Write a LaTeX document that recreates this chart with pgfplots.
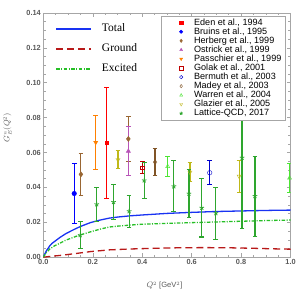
\documentclass[border=0pt]{standalone}
\usepackage{pgfplots}
\pgfplotsset{compat=1.18}
\usepackage{fontspec}
\setmainfont{Liberation Sans}
\newfontfamily\serifff{Liberation Serif}
\definecolor{totalblue}{rgb}{0.1,0.2,0.95}
\definecolor{groundred}{rgb}{0.72,0.1,0.1}
\definecolor{excgreen}{rgb}{0.15,0.75,0.15}
\definecolor{edenred}{rgb}{1,0,0}
\definecolor{bruinsblue}{rgb}{0,0,1}
\definecolor{herbbrown}{rgb}{0.6,0.4,0.2}
\definecolor{ostpurple}{rgb}{0.72,0.33,0.72}
\definecolor{passorange}{rgb}{1,0.5,0}
\definecolor{golakred}{rgb}{0.75,0,0}
\definecolor{bermblue}{rgb}{0,0,0.8}
\definecolor{madeybrown}{rgb}{0.5,0.33,0.15}
\definecolor{warrengreen}{rgb}{0.3,0.9,0.2}
\definecolor{glazyellow}{rgb}{0.75,0.72,0.1}
\definecolor{latgreen}{rgb}{0.18,0.65,0.18}
\definecolor{framegray}{rgb}{0.65,0.65,0.65}
\definecolor{labgray}{rgb}{0.35,0.35,0.35}
\begin{document}
\begin{tikzpicture}
\pgfplotsset{
  ebar/.style={only marks, color=#1, error bars/y dir=both, error bars/y explicit,
    error bars/error bar style={line width=1.2pt, color=#1},
    error bars/error mark options={rotate=90, line width=1.1pt, mark size=2.4pt, color=#1}},
}
\begin{axis}[
  scale only axis, width=248pt, height=245pt,
  xmin=0, xmax=1, ymin=0, ymax=0.14,
  xtick={0,0.2,0.4,0.6,0.8,1.0}, ytick={0,0.02,0.04,0.06,0.08,0.10,0.12,0.14},
  minor x tick num=3, minor y tick num=3,
  tick align=inside, major tick length=4pt, minor tick length=2.2pt,
  axis line style={framegray, line width=0.6pt},
  tick style={framegray, line width=0.5pt},
  /pgf/number format/assume math mode=true,
  xticklabel style={/pgf/number format/fixed, /pgf/number format/fixed zerofill, /pgf/number format/precision=1, yshift=1pt},
  yticklabel style={/pgf/number format/fixed, /pgf/number format/fixed zerofill, /pgf/number format/precision=2, xshift=1pt},
  ticklabel style={font=\fontsize{7.4}{8}\selectfont\bfseries, text=labgray},
  xlabel={$Q^2$ [GeV$^2$]},
  ylabel={$G_E^n(Q^2)$},
  label style={font=\fontsize{7.6}{8}\selectfont, text=labgray},
  xlabel style={at={(rel axis cs:0.49,0)}, anchor=center, yshift=-28.5pt},
  ylabel style={at={(rel axis cs:0,0.53)}, anchor=center, yshift=36pt},
  legend style={at={(rel axis cs:1,1)}, anchor=north east, xshift=-5pt, yshift=-3pt,
    draw=framegray, fill=white, font=\fontsize{9.1}{9}\selectfont,
    row sep=0pt, inner xsep=2pt, inner ysep=2pt,
    nodes={text height=6.6pt, text depth=1.9pt, inner ysep=0.3pt, inner xsep=2pt}},
  legend cell align=left,
  legend image code/.code={\path[draw=none, fill=none] (0pt,0pt) -- (29pt,0pt);
    \draw[mark size=1.7pt,#1] plot coordinates {(18pt,0pt)};},
]
% curves
\addplot[totalblue, line width=1.3pt, forget plot] coordinates {
(0,0) (0.004,0.0014) (0.008,0.0024) (0.013,0.0038) (0.02,0.0052) (0.026,0.0065) (0.035,0.0079)
(0.05,0.0095) (0.067,0.0113) (0.09,0.0134) (0.12,0.0156) (0.15,0.0176) (0.19,0.0198)
(0.23,0.0213) (0.267,0.0224) (0.3,0.0230) (0.35,0.0237) (0.4,0.0242) (0.5,0.0251)
(0.6,0.0257) (0.7,0.0262) (0.8,0.0265) (0.9,0.0268) (1.0,0.0270)};
\addplot[groundred, line width=1.3pt, dash pattern=on 7pt off 4pt, forget plot] coordinates {
(0,0) (0.03,0.0005) (0.067,0.0010) (0.12,0.0019) (0.19,0.0032) (0.267,0.0042) (0.35,0.0047)
(0.45,0.0051) (0.55,0.0054) (0.65,0.0055) (0.75,0.0054) (0.85,0.0051) (0.93,0.0048) (1.0,0.0046)};
\addplot[excgreen, line width=1.3pt, dash pattern=on 3.5pt off 1.5pt on 1pt off 1.5pt, forget plot] coordinates {
(0,0) (0.01,0.0022) (0.026,0.0047) (0.045,0.0065) (0.067,0.0080) (0.09,0.0097) (0.12,0.0113)
(0.15,0.0128) (0.19,0.0145) (0.23,0.0161) (0.267,0.0173) (0.3,0.0178) (0.35,0.0184) (0.4,0.0189)
(0.5,0.0194) (0.6,0.0198) (0.7,0.0202) (0.8,0.0206) (0.9,0.0210) (1.0,0.0213)};
% data
\addplot[ebar=edenred, mark=square*, mark size=1.8pt] table[y error=e] {
x y e
0.257 0.0656 0.0319
};
\addlegendentry{Eden et al., 1994}
\addplot[ebar=bruinsblue, mark=*, mark size=2.3pt] table[y error=e] {
x y e
0.125 0.0365 0.0170
};
\addlegendentry{Bruins et al., 1995}
\addplot[ebar=herbbrown, mark=diamond*, mark size=2.6pt] table[y error=e] {
x y e
0.152 0.0475 0.0119
0.344 0.0678 0.0129
};
\addlegendentry{Herberg et al., 1999}
\addplot[ebar=ostpurple, mark=triangle*, mark size=2.4pt] table[y error=e] {
x y e
0.344 0.0608 0.0139
};
\addlegendentry{Ostrick et al., 1999}
\addplot[ebar=passorange, mark=triangle*, mark options={rotate=180}, mark size=2.4pt] table[y error=e] {
x y e
0.212 0.0658 0.0155
};
\addlegendentry{Passchier et al., 1999}
\addplot[ebar=golakred, mark=square, mark size=1.8pt] table[y error=e] {
x y e
0.401 0.0514 0.0036
};
\addlegendentry{Golak et al., 2001}
\addplot[ebar=bermblue, mark=o, mark size=2.3pt] table[y error=e] {
x y e
0.673 0.0484 0.0069
};
\addlegendentry{Bermuth et al., 2003}
\addplot[ebar=madeybrown, mark=diamond, mark size=2.4pt] table[y error=e] {
x y e
0.452 0.0545 0.0076
};
\addlegendentry{Madey et al., 2003}
\addplot[ebar=warrengreen, mark=triangle, mark size=2.4pt] table[y error=e] {
x y e
0.503 0.0520 0.0059
0.996 0.0454 0.0085
};
\addlegendentry{Warren et al., 2004}
\addplot[ebar=glazyellow, mark=triangle, mark options={rotate=180}, mark size=2.4pt] table[y error=e] {
x y e
0.302 0.0559 0.0052
0.593 0.0487 0.0054
0.792 0.0464 0.0091
};
\addlegendentry{Glazier et al., 2005}
\addplot[ebar=latgreen, mark=star, mark size=2.4pt, mark options={line width=0.8pt}] table[y error=e] {
x y e
0.149 0.0126 0.0078
0.216 0.0303 0.0097
0.284 0.0316 0.0101
0.347 0.0263 0.0093
0.408 0.0440 0.0105
0.528 0.0406 0.0146
0.589 0.0364 0.0138
0.641 0.0283 0.0167
0.698 0.0252 0.0148
0.804 0.0570 0.0406
0.856 0.0350 0.0229
};
\addlegendentry{Lattice-QCD, 2017}
\end{axis}
\begin{axis}[
  scale only axis, width=248pt, height=245pt,
  xmin=0, xmax=1, ymin=0, ymax=0.14, hide axis,
  legend style={at={(rel axis cs:0,1)}, anchor=north west, xshift=12pt, yshift=-6pt,
    draw=none, fill=none, font=\serifff\fontsize{11.5}{12}\selectfont, row sep=0pt,
    inner sep=0pt,
    nodes={text height=8pt, text depth=2.5pt, inner ysep=4.75pt, inner xsep=3pt}},
  legend cell align=left,
  legend image code/.code={\draw[#1] (0pt,0pt) -- (35pt,0pt); \path[draw=none] (0pt,0pt) -- (43pt,0pt);},
]
\addlegendimage{totalblue, line width=1.3pt}
\addlegendentry{Total}
\addlegendimage{groundred, line width=1.3pt, dash pattern=on 7pt off 4pt}
\addlegendentry{Ground}
\addlegendimage{excgreen, line width=1.3pt, dash pattern=on 3.5pt off 1.5pt on 1pt off 1.5pt}
\addlegendentry{Excited}
\end{axis}
\path (-43pt,-41pt) rectangle (256pt,258pt);
\end{tikzpicture}
\end{document}
